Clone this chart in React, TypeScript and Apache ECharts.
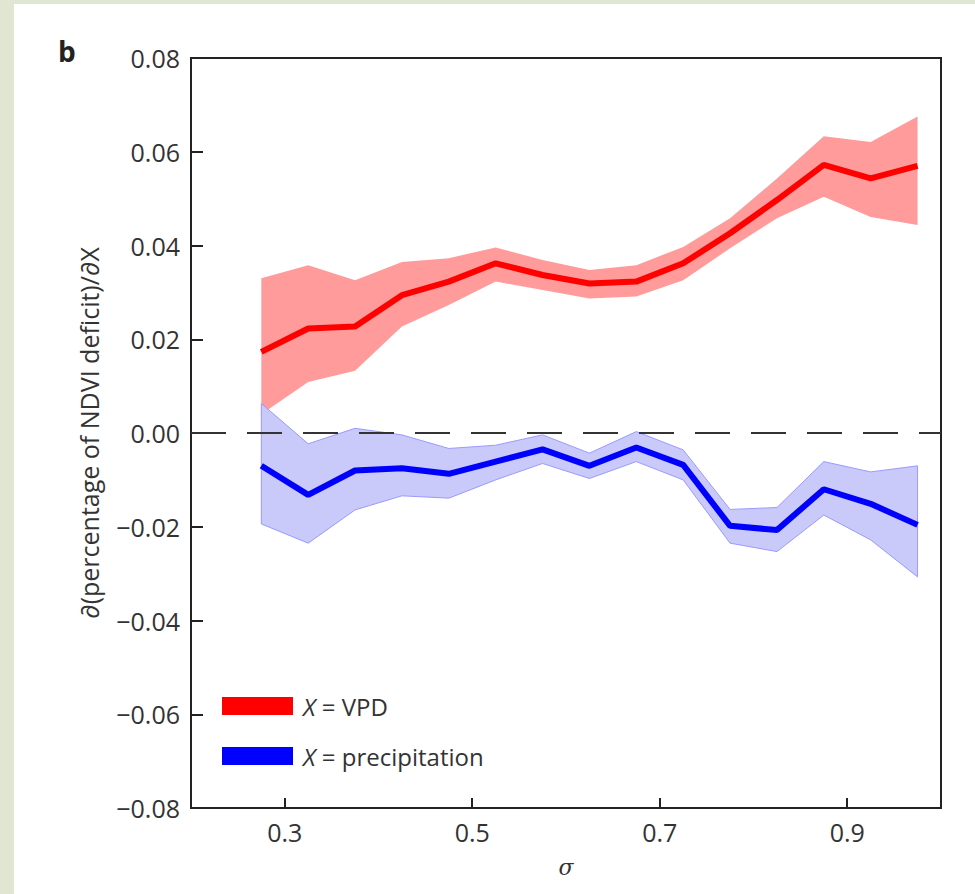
import React, { useEffect, useRef } from "react";
import * as echarts from "echarts";

const sigma = [0.275, 0.325, 0.375, 0.425, 0.475, 0.525, 0.575, 0.625, 0.675, 0.725, 0.775, 0.825, 0.875, 0.925, 0.975];

const vpdMean = [0.0173, 0.0223, 0.0227, 0.0294, 0.0323, 0.0362, 0.0337, 0.0319, 0.0323, 0.0362, 0.0426, 0.0497, 0.0572, 0.0543, 0.0570];
const vpdUpper = [0.0330, 0.0358, 0.0326, 0.0365, 0.0373, 0.0396, 0.0369, 0.0348, 0.0358, 0.0397, 0.0458, 0.0543, 0.0633, 0.0621, 0.0675];
const vpdLower = [0.0040, 0.0109, 0.0133, 0.0227, 0.0273, 0.0323, 0.0305, 0.0287, 0.0291, 0.0326, 0.0394, 0.0458, 0.0504, 0.0461, 0.0444];

const precipMean = [-0.0070, -0.0132, -0.0080, -0.0075, -0.0087, -0.0061, -0.0035, -0.0070, -0.0031, -0.0068, -0.0198, -0.0207, -0.0120, -0.0151, -0.0196];
const precipUpper = [0.0063, -0.0023, 0.0010, -0.0004, -0.0033, -0.0026, -0.0004, -0.0043, 0.0003, -0.0036, -0.0163, -0.0159, -0.0061, -0.0083, -0.0070];
const precipLower = [-0.0194, -0.0235, -0.0164, -0.0134, -0.0139, -0.0100, -0.0065, -0.0097, -0.0061, -0.0100, -0.0235, -0.0253, -0.0175, -0.0228, -0.0307];

const xTicks = [0.3, 0.5, 0.7, 0.9];
const yTitle = "∂(percentage of NDVI deficit)/∂X";
const legendLabels: Record<string, string> = {
  vpd: "{i|X} = VPD",
  precip: "{i|X} = precipitation",
};

const FONT = "'Open Sans', 'DejaVu Sans', sans-serif";
const TEXT = "#333333";

function bandSeries(lower: number[], upper: number[], fill: string, stroke: string, z: number) {
  return {
    type: "custom",
    coordinateSystem: "cartesian2d",
    z,
    silent: true,
    data: sigma.map((s, i) => [s, lower[i], upper[i]]),
    renderItem: (params: any, api: any) => {
      if (params.dataIndex !== 0) return null;
      const pts: number[][] = [];
      for (let i = 0; i < sigma.length; i++) pts.push(api.coord([sigma[i], upper[i]]));
      for (let i = sigma.length - 1; i >= 0; i--) pts.push(api.coord([sigma[i], lower[i]]));
      return {
        type: "polygon",
        shape: { points: pts },
        style: { fill, stroke, lineWidth: stroke === "none" ? 0 : 1 },
      };
    },
  };
}

export default function App() {
  const ref = useRef<HTMLDivElement>(null);
  useEffect(() => {
    if (!ref.current) return;
    const chart = echarts.init(ref.current, null, { renderer: "svg" });
    chart.setOption({
      animation: false,
      backgroundColor: "#ffffff",
      graphic: [
        { type: "rect", left: 0, top: 0, shape: { width: 14, height: 894 }, style: { fill: "#dfe6d2" }, silent: true },
        { type: "rect", left: 0, top: 0, shape: { width: 975, height: 4 }, style: { fill: "#dfe6d2" }, silent: true },
        {
          type: "text",
          x: 89,
          y: 433,
          rotation: Math.PI / 2,
          silent: true,
          style: {
            text: yTitle,
            fontFamily: FONT,
            fontSize: 25,
            fill: TEXT,
            align: "center",
            verticalAlign: "middle",
          },
        },
      ],
      title: {
        text: "b",
        left: 53,
        top: 32,
        textStyle: { fontFamily: FONT, fontWeight: "bold", fontSize: 28, color: "#222" },
      },
      grid: {
        left: 191,
        top: 58,
        right: 34,
        bottom: 86,
        show: true,
        borderColor: "#222",
        borderWidth: 2,
        backgroundColor: "transparent",
      },
      legend: {
        left: 222,
        top: 694,
        padding: 0,
        orient: "vertical",
        icon: "rect",
        itemWidth: 71,
        itemHeight: 18,
        itemGap: 26,
        data: ["vpd", "precip"],
        selectedMode: false,
        formatter: (name: string) => legendLabels[name],
        textStyle: {
          fontFamily: FONT,
          fontSize: 24,
          color: TEXT,
          lineHeight: 18,
          padding: [0, 0, 0, 5],
          rich: {
            i: { fontFamily: FONT, fontSize: 24, fontStyle: "italic", color: TEXT, lineHeight: 18 },
          },
        },
      },
      xAxis: {
        type: "value",
        min: 0.2,
        max: 1.0,
        name: "σ",
        nameLocation: "middle",
        nameGap: 48,
        nameTextStyle: { fontFamily: "'DejaVu Serif', serif", fontStyle: "italic", fontSize: 22, color: TEXT },
        axisLine: { show: true, onZero: false, lineStyle: { color: "#222", width: 2 } },
        axisTick: { show: true, inside: true, length: 10, customValues: xTicks, lineStyle: { color: "#222", width: 2 } },
        axisLabel: {
          customValues: xTicks,
          formatter: (v: number) => v.toFixed(1),
          fontFamily: FONT,
          fontSize: 25,
          color: TEXT,
          margin: 11,
        },
        splitLine: { show: false },
      },
      yAxis: {
        type: "value",
        min: -0.08,
        max: 0.08,
        interval: 0.02,
        axisLine: { show: true, onZero: false, lineStyle: { color: "#222", width: 2 } },
        axisTick: { show: true, inside: true, length: 12, lineStyle: { color: "#222", width: 2 } },
        axisLabel: {
          formatter: (v: number) => (v < -1e-9 ? "−" : "") + Math.abs(v).toFixed(2),
          fontFamily: FONT,
          fontSize: 25,
          color: TEXT,
          margin: 11,
        },
        splitLine: { show: false },
      },
      series: [
        bandSeries(vpdLower, vpdUpper, "#ff9b9b", "none", 1),
        bandSeries(precipLower, precipUpper, "#c9c9fa", "#9a9aff", 2),
        {
          name: "vpd",
          type: "line",
          z: 4,
          data: sigma.map((s, i) => [s, vpdMean[i]]),
          showSymbol: false,
          symbol: "none",
          color: "#ff0000",
          itemStyle: { color: "#ff0000" },
          lineStyle: { color: "#ff0000", width: 6 },
        },
        {
          name: "precip",
          type: "line",
          z: 4,
          data: sigma.map((s, i) => [s, precipMean[i]]),
          showSymbol: false,
          symbol: "none",
          color: "#0000ff",
          itemStyle: { color: "#0000ff" },
          lineStyle: { color: "#0000ff", width: 6 },
          markLine: {
            silent: true,
            symbol: "none",
            label: { show: false },
            lineStyle: { color: "#333", width: 2, type: [35, 21] },
            data: [{ yAxis: 0 }],
          },
        },
      ],
    });
    return () => chart.dispose();
  }, []);
  return <div ref={ref} style={{ position: "absolute", left: 0, top: 0, width: 975, height: 894 }} />;
}
